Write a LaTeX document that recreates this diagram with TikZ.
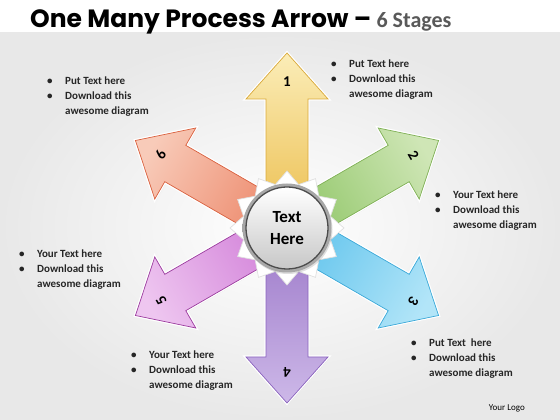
\documentclass[tikz,border=0pt]{standalone}
\usepackage{fontspec}
\setmainfont{Carlito}
\newfontfamily\titlefont{Poppins}
\usetikzlibrary{shadows}

\definecolor{yelL}{HTML}{FBEDB8}
\definecolor{yelD}{HTML}{EEC55E}
\definecolor{yelB}{HTML}{D9A93A}
\definecolor{grnL}{HTML}{CFE6B6}
\definecolor{grnD}{HTML}{9ACB74}
\definecolor{grnB}{HTML}{7FB055}
\definecolor{bluL}{HTML}{B2E5F8}
\definecolor{bluD}{HTML}{6CC8EE}
\definecolor{bluB}{HTML}{3AA8D8}
\definecolor{purL}{HTML}{CDB8E8}
\definecolor{purD}{HTML}{A483CE}
\definecolor{purB}{HTML}{8A63BE}
\definecolor{pnkL}{HTML}{EEC6F0}
\definecolor{pnkD}{HTML}{D68ADC}
\definecolor{pnkB}{HTML}{9B3C9E}
\definecolor{salL}{HTML}{F8CBB9}
\definecolor{salD}{HTML}{EE9175}
\definecolor{salB}{HTML}{D9603E}
\definecolor{subgray}{HTML}{595959}

\tikzset{
  stage/.style={line width=0.7pt, line join=miter,
    drop shadow={opacity=0.22, shadow xshift=1.2pt, shadow yshift=-1.2pt},
    preaction={draw=white, line width=3.2pt}},
  num/.style={font=\bfseries\fontsize{15}{15}\selectfont, inner sep=0pt},
  note/.style={anchor=base west, inner sep=0pt, font=\bfseries\fontsize{11}{15}\selectfont, text=black!85}
}

\newcommand{\notetext}[2]{%
  \begin{tabular}[t]{@{}p{18pt}@{}l@{}}
    \textbullet & #1\\
    \textbullet & #2\\
                & awesome diagram
  \end{tabular}}

\begin{document}
\begin{tikzpicture}[x=1pt,y=1pt]
    \useasboundingbox (0,0) rectangle (560,420);
    \fill[white] (0,0) rectangle (560,420);
    \shade[inner color=white, outer color=black!9] (0,0) rectangle (560,387);

    % title
    \node[anchor=base west, inner sep=0pt] (title) at (30,392)
        {\titlefont\bfseries\fontsize{25}{28}\selectfont One Many Process Arrow \textendash\
         {\normalfont\bfseries\fontsize{22}{24}\selectfont\color{subgray}6 Stages}};

    \coordinate (ctr) at (287,192);

    % arrows
    \draw[stage, top color=yelL, bottom color=yelD, draw=yelB, shading angle=0, shift={(ctr)}, rotate=90]
        (30,21) -- (129,21) -- (129,41) -- (175,0) -- (129,-41) -- (129,-21) -- (30,-21) -- cycle;
    \draw[stage, top color=grnL, bottom color=grnD, draw=grnB, shading angle=-60, shift={(ctr)}, rotate=30]
        (30,21) -- (129,21) -- (129,41) -- (175,0) -- (129,-41) -- (129,-21) -- (30,-21) -- cycle;
    \draw[stage, top color=bluL, bottom color=bluD, draw=bluB, shading angle=-120, shift={(ctr)}, rotate=-30]
        (30,21) -- (129,21) -- (129,41) -- (175,0) -- (129,-41) -- (129,-21) -- (30,-21) -- cycle;
    \draw[stage, top color=purL, bottom color=purD, draw=purB, shading angle=180, shift={(ctr)}, rotate=-90]
        (30,21) -- (129,21) -- (129,41) -- (175,0) -- (129,-41) -- (129,-21) -- (30,-21) -- cycle;
    \draw[stage, top color=pnkL, bottom color=pnkD, draw=pnkB, shading angle=120, shift={(ctr)}, rotate=210]
        (30,21) -- (129,21) -- (129,41) -- (175,0) -- (129,-41) -- (129,-21) -- (30,-21) -- cycle;
    \draw[stage, top color=salL, bottom color=salD, draw=salB, shading angle=60, shift={(ctr)}, rotate=150]
        (30,21) -- (129,21) -- (129,41) -- (175,0) -- (129,-41) -- (129,-21) -- (30,-21) -- cycle;

    % star behind the hub
    \begin{scope}[shift={(ctr)}]
        \draw[fill=white, draw=black!12, line width=0.7pt, line join=miter]
            (0:57) \foreach \a in {15,45,...,345} { -- (\a:45) -- (\a+15:57) } -- cycle;
    \end{scope}

    % hub
    \node[circle, minimum size=89pt, inner sep=0pt, inner color=black!8, outer color=black!35,
          drop shadow={opacity=0.25, shadow xshift=1pt, shadow yshift=-1.5pt}] (rim) at (ctr) {};
    \node[circle, minimum size=82pt, inner sep=0pt, top color=white, bottom color=black!22,
          draw=black!70, line width=1.3pt, align=center,
          font=\bfseries\fontsize{17}{22}\selectfont] (hub) at (ctr) {Text\\Here};

    % numbers
    \node[num] (n1) at ([shift={(90:146)}]ctr) {1};
    \node[num, rotate=-60] (n2) at ([shift={(30:146)}]ctr) {2};
    \node[num, rotate=-120] (n3) at ([shift={(-30:146)}]ctr) {3};
    \node[num, rotate=180] (n4) at ([shift={(-90:144)}]ctr) {4};
    \node[num, rotate=120] (n5) at ([shift={(210:145)}]ctr) {5};
    \node[num, rotate=60] (n6) at ([shift={(150:146)}]ctr) {6};

    % notes
    \node[note] (t6) at (47,335) {\notetext{Put Text here}{Download this}};
    \node[note] (t1) at (331,352) {\notetext{Put Text here}{Download this}};
    \node[note] (t2) at (435,221) {\notetext{Your Text here}{Download this}};
    \node[note] (t5) at (19,162) {\notetext{Your Text here}{Download this}};
    \node[note] (t4) at (131,61) {\notetext{Your Text here}{Download this}};
    \node[note] (t3) at (411,73) {\notetext{Put Text\ \ here}{Download this}};

    \node[anchor=base east, inner sep=0pt, font=\fontsize{9}{10}\selectfont] (logo) at (525,9) {Your Logo};
\end{tikzpicture}
\end{document}
